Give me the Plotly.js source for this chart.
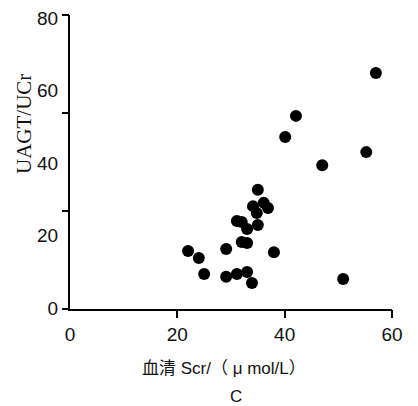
<!DOCTYPE html>
<html>
<head>
<meta charset="utf-8">
<script src="https://cdn.plot.ly/plotly-3.0.1.min.js"></script>
<style>
  html, body { margin: 0; padding: 0; background: #fff; }
  #chart { width: 418px; height: 406px; }
</style>
</head>
<body>
<div id="chart"></div>
<script>
// Serum creatinine vs. urinary AGT/creatinine ratio
const scr = [22.0, 24.0, 25.0, 29.1, 29.1, 31.1, 33.0, 33.9,
             31.1, 32.0, 33.0, 32.0, 33.0,
             35.0, 34.1, 36.1, 36.9, 34.8, 35.0, 38.0,
             40.1, 42.1, 47.0, 50.9, 55.2, 57.0];
const uagtUcr = [15.7, 13.8, 9.4, 16.3, 8.6, 9.4, 9.9, 6.9,
                 24.0, 23.7, 21.8, 18.2, 17.9,
                 32.6, 28.1, 29.0, 27.6, 26.2, 22.9, 15.4,
                 47.2, 53.0, 39.4, 8.0, 43.0, 64.8];

const xTickVals = [0, 20, 40, 60];
const yTickVals = [0, 20, 40, 60, 80];
const xTitle = '血清 Scr/（ μ mol/L）';
const yTitle = 'UAGT/UCr';
const panelLabel = 'C';

// plot-area geometry (pixels)
const W = 418, H = 406;
const L = 70, R = 26, T = 15, B = 97;
const PW = W - L - R, PH = H - T - B;
const px = x => (x - L) / PW;
const py = y => (T + PH - y) / PH;

const sansFont = '"Liberation Sans", Arial, sans-serif';
const cjkFont = '"Liberation Sans", "Noto Sans CJK SC", sans-serif';

const traces = [
  {
    x: scr, y: uagtUcr, type: 'scatter', mode: 'markers',
    marker: { color: '#000', size: 12, line: { width: 0 } },
    hoverinfo: 'x+y'
  },
  // carrier for the secondary axes (tick marks only)
  { x: [], y: [], type: 'scatter', mode: 'markers', xaxis: 'x2', yaxis: 'y2', hoverinfo: 'skip', showlegend: false }
];

const layout = {
  width: W, height: H,
  margin: { l: L, r: R, t: T, b: B, pad: 0 },
  paper_bgcolor: '#fff', plot_bgcolor: '#fff',
  showlegend: false,
  font: { family: sansFont, color: '#000', size: 19 },
  xaxis: {
    range: [0, 60], tickvals: xTickVals, ticktext: xTickVals.map(String),
    ticks: 'outside', ticklen: 7, tickwidth: 2, tickcolor: 'rgba(0,0,0,0)',
    showline: true, linecolor: '#000', linewidth: 2,
    showgrid: false, zeroline: false,
    tickfont: { family: sansFont, size: 19, color: '#111' }
  },
  yaxis: {
    range: [-0.28, 80.83], tickvals: yTickVals, ticktext: yTickVals.map(String),
    ticks: 'outside', ticklen: 6, tickwidth: 2, tickcolor: 'rgba(0,0,0,0)',
    showline: true, linecolor: '#000', linewidth: 2,
    showgrid: false, zeroline: false,
    tickfont: { family: sansFont, size: 19, color: '#111' }
  },
  xaxis2: {
    overlaying: 'x', anchor: 'y', range: [0, 60], tickvals: [20, 40, 60],
    ticks: 'outside', ticklen: 8, tickwidth: 2, tickcolor: '#000',
    showticklabels: false, showline: false, showgrid: false, zeroline: false
  },
  yaxis2: {
    overlaying: 'y', anchor: 'x', range: [0, 3], tickvals: [0, 1, 2, 3],
    ticks: 'outside', ticklen: 7, tickwidth: 2, tickcolor: '#000',
    showticklabels: false, showline: false, showgrid: false, zeroline: false
  },
  annotations: [
    {
      text: xTitle, xref: 'paper', yref: 'paper', x: px(224), y: py(368),
      xanchor: 'center', yanchor: 'middle', showarrow: false,
      font: { family: cjkFont, size: 17, color: '#111' }
    },
    {
      text: panelLabel, xref: 'paper', yref: 'paper', x: px(236), y: py(396),
      xanchor: 'center', yanchor: 'middle', showarrow: false,
      font: { family: sansFont, size: 17, color: '#111' }
    },
    {
      text: yTitle, xref: 'paper', yref: 'paper', x: px(24), y: py(124),
      xanchor: 'center', yanchor: 'middle', showarrow: false, textangle: -90,
      font: { family: '"Liberation Serif", "Times New Roman", serif', size: 21, color: '#111' }
    }
  ]
};

Plotly.newPlot('chart', traces, layout, { displayModeBar: false, staticPlot: true });
</script>
</body>
</html>
